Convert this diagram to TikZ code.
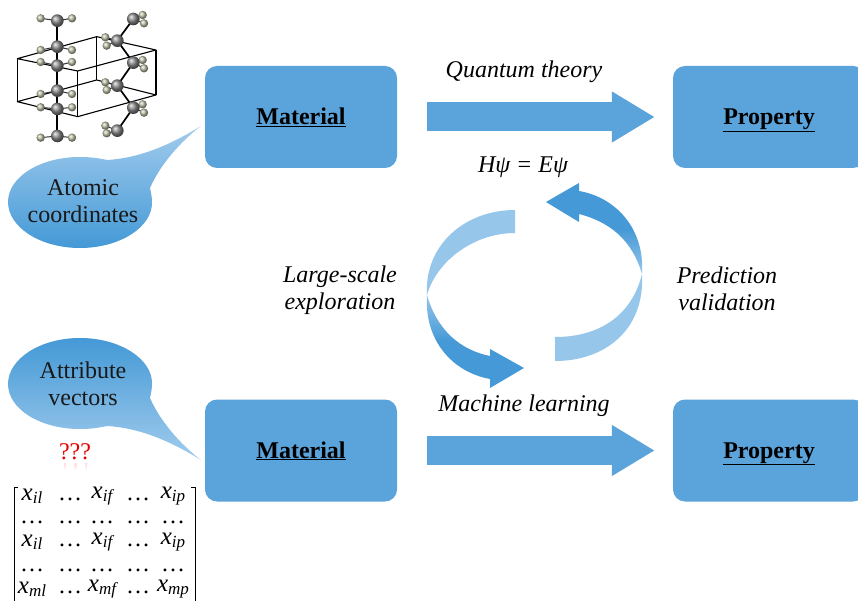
\documentclass[tikz,border=0pt]{standalone}
\usepackage{fontspec}
\setmainfont{Liberation Serif}
\usetikzlibrary{arrows.meta,calc}
\definecolor{boxblue}{HTML}{5BA3DB}
\definecolor{deepblue}{HTML}{4499D6}
\definecolor{paleblue}{HTML}{97C6EB}
\definecolor{atomH}{HTML}{BCC0A6}
\definecolor{atomC}{HTML}{8A8A8C}
\newcommand{\mx}[1]{{\fontsize{25}{25}\selectfont\textit{x}}\raisebox{-3pt}{\fontsize{17}{17}\selectfont\itshape #1}}
\tikzset{
  x=1pt,y=-1pt,
  matbox/.style={fill=boxblue,rounded corners=12pt,minimum width=192pt,minimum height=102pt,inner sep=0pt,text height=17pt,text depth=2pt,font=\fontsize{24}{24}\selectfont\bfseries},
  bigarrow/.style={draw=boxblue,line width=29pt,-{Triangle[length=43pt,width=48pt]},shorten <=30pt,shorten >=18pt},
  label/.style={font=\fontsize{24}{27}\selectfont\itshape,inner sep=0pt,align=center},
  bubtext/.style={font=\fontsize{24}{27}\selectfont,inner sep=0pt,align=center,text=black!90},
  mcell/.style={font=\fontsize{24}{24}\selectfont,inner sep=0pt,anchor=center},
  bond/.style={line width=1.7pt,black},
  hbond/.style={line width=1pt,black!80},
  cell/.style={line width=1.1pt,black,line join=round},
  bracket/.style={line width=1pt,black},
  cballs/.style={ball color=atomC},
  hballs/.style={ball color=atomH},
}
\begin{document}
\begin{tikzpicture}
\useasboundingbox (0,0) rectangle (858,601);
\clip (0,0) rectangle (858,601);
\fill[white] (0,0) rectangle (858,601);

% boxes
\node[matbox] (mat1) at (301,117) {\underline{Material}};
\node[matbox] (prop1) at (769,117) {\underline{Property}};
\node[matbox] (mat2) at (301,450.5) {\underline{Material}};
\node[matbox] (prop2) at (769,450.5) {\underline{Property}};
\draw[bigarrow] (mat1) -- (prop1);
\draw[bigarrow] (mat2) -- (prop2);

% labels
\node[label] (qt) at (524,72) {Quantum theory};
\node[label] (hpsi) at (523,167) {Hψ = Eψ};
\node[label] (lse) at (340,290) {Large-scale\\exploration};
\node[label] (pv) at (727,288.5) {Prediction\\validation};
\node[label] (ml) at (524,406) {Machine learning};

% cycle arrows
\fill[paleblue] (515,210) .. controls (465,210) and (424,245) .. (427,295)
  .. controls (437,260) and (475,233) .. (515,233) -- cycle;
\shade[top color=paleblue,bottom color=deepblue,middle color=deepblue]
  (427,295) .. controls (424,340) and (452,372) .. (490,379) -- (490,388) -- (524,368) -- (490,349) -- (490,356)
  .. controls (460,350) and (437,330) .. (427,295) -- cycle;
\shade[top color=deepblue,bottom color=paleblue,middle color=deepblue]
  (546,202) -- (579,183) -- (579,191) .. controls (615,197) and (645,228) .. (642,274)
  .. controls (632,240) and (610,222) .. (579,214) -- (579,222) -- cycle;
\fill[paleblue] (642,274) .. controls (645,330) and (605,361) .. (555,361) -- (555,337)
  .. controls (600,337) and (632,315) .. (642,274) -- cycle;

% speech bubbles
\shade[top color=paleblue!90,bottom color=deepblue]
  (107,160) .. controls (98,158) and (90,157) .. (80,157) .. controls (40,157) and (8,177) .. (8,202)
  .. controls (8,227) and (40,248) .. (80,248) .. controls (120,248) and (152,227) .. (152,203)
  .. controls (152,197) and (151,192) .. (150,188) .. controls (160,165) and (180,142) .. (201,126)
  .. controls (170,145) and (140,158) .. (107,160) -- cycle;
\shade[top color=deepblue,bottom color=paleblue!90]
  (107,426) .. controls (98,428) and (90,429) .. (80,429) .. controls (40,429) and (8,409) .. (8,384)
  .. controls (8,359) and (40,338) .. (80,338) .. controls (120,338) and (152,359) .. (152,383)
  .. controls (152,389) and (151,394) .. (150,398) .. controls (160,421) and (180,444) .. (201,460)
  .. controls (170,441) and (140,428) .. (107,426) -- cycle;
\node[bubtext] (atomic) at (83,201) {Atomic\\coordinates};
\node[bubtext] (attr) at (83,384) {Attribute\\vectors};

% question marks and their faint reflection
\node[font=\fontsize{24}{24}\selectfont,text=red!90!black,inner sep=0pt] (qq) at (75,452) {???};
\foreach \qx in {65,75.5,86}
  \shade[top color=red!15,bottom color=white] (\qx-1,463) rectangle (\qx+1,470);

% matrix
\node[mcell] (a11) at (32,496) {\mx{il}};
\node[mcell] (a12) at (70,499) {\dots};
\node[mcell] (a13) at (102,496) {\mx{if}};
\node[mcell] (a14) at (138,499) {\dots};
\node[mcell] (a15) at (173,496) {\mx{ip}};
\foreach \mxc/\mname in {32/a,70/b,102/c,138/d,173/e}{
  \node[mcell] (r2\mname) at (\mxc,522) {\dots};
  \node[mcell] (r4\mname) at (\mxc,570) {\dots};
}
\node[mcell] (a31) at (32,542) {\mx{il}};
\node[mcell] (a32) at (70,545) {\dots};
\node[mcell] (a33) at (102,542) {\mx{if}};
\node[mcell] (a34) at (138,545) {\dots};
\node[mcell] (a35) at (173,542) {\mx{ip}};
\node[mcell] (a51) at (32,589) {\mx{ml}};
\node[mcell] (a52) at (70,592) {\dots};
\node[mcell] (a53) at (102,589) {\mx{mf}};
\node[mcell] (a54) at (138,592) {\dots};
\node[mcell] (a55) at (173,589) {\mx{mp}};
\draw[bracket] (18,487) -- (14,487) -- (14,602);
\draw[bracket] (191,487) -- (195,487) -- (195,602);

% crystal cell
\begin{scope}[x=0.3333pt,y=-0.3333pt]
\draw[cell] (52,176) -- (290,110) -- (468,150) -- (233,213) -- cycle;
\draw[cell] (52,305) -- (290,240) -- (468,285) -- (233,350) -- cycle;
\foreach \cx/\cy/\cz in {52/176/305,290/110/240,468/150/285,233/213/350}
  \draw[cell] (\cx,\cy) -- (\cx,\cz);
% hydrogen bonds and atoms
\foreach \hx/\hy/\px/\py in {
  122/55/172/62,216/55/172/62,122/150/172/140,216/150/172/140,122/186/172/197,216/186/172/197,
  122/282/172/272,216/282/172/272,122/322/172/327,216/322/172/327,122/413/172/408,216/413/172/408,
  428/45/400/57,432/70/400/57,316/112/352/122,320/137/352/122,428/180/400/188,432/205/400/188,
  316/247/352/257,320/270/352/257,428/313/400/323,432/338/400/323,316/377/352/392,320/400/352/392}
  \draw[hbond] (\hx,\hy) -- (\px,\py);
\draw[bond] (172,62) -- (172,140) -- (172,197) -- (172,272) -- (172,327) -- (172,408);
\draw[bond] (400,57) -- (352,122) -- (400,188) -- (352,257) -- (400,323) -- (352,392);
\foreach \hx/\hy in {
  122/55,216/55,122/150,216/150,122/186,216/186,122/282,216/282,122/322,216/322,122/413,216/413,
  428/45,432/70,316/112,320/137,428/180,432/205,316/247,320/270,428/313,432/338,316/377,320/400}
  \shade[hballs] (\hx,\hy) circle (12.5);
\foreach \cx/\cy in {172/62,172/140,172/197,172/272,172/327,172/408,400/57,352/122,400/188,352/257,400/323,352/392}
  \shade[cballs] (\cx,\cy) circle (19);
\end{scope}
\end{tikzpicture}
\end{document}
